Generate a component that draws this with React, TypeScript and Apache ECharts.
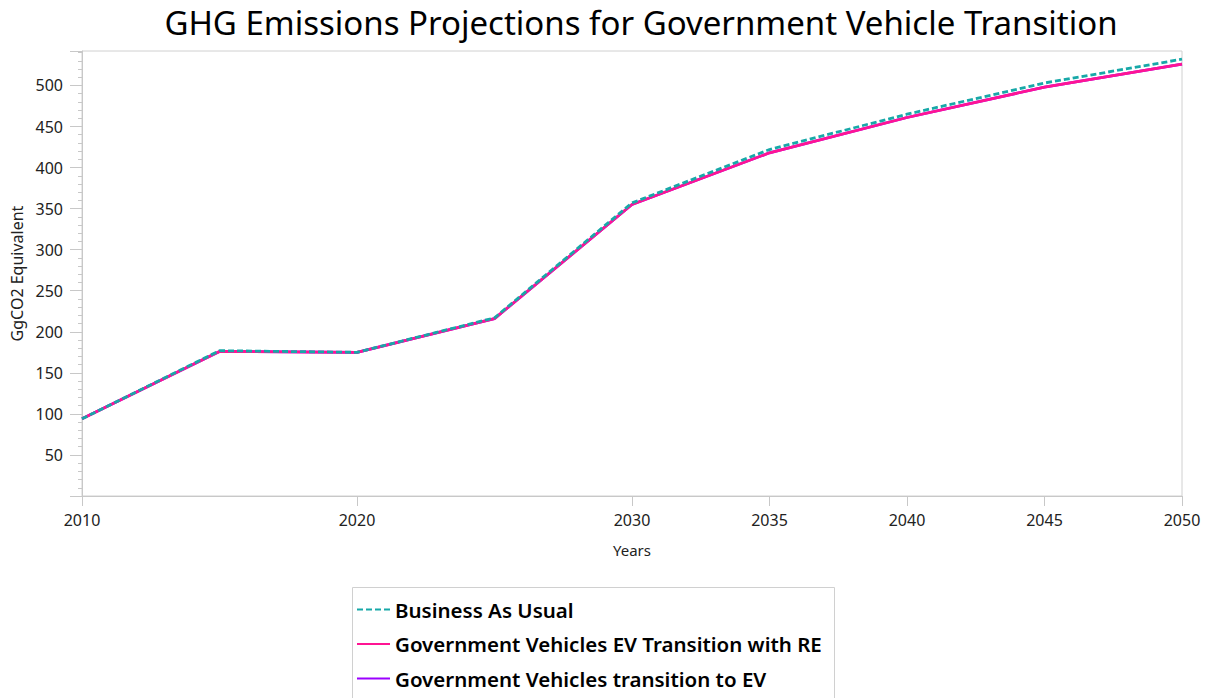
import React, { useEffect, useRef } from "react";
import * as echarts from "echarts";

const years = [2010, 2015, 2020, 2025, 2030, 2035, 2040, 2045, 2050];
const bau = [94, 177, 175, 217, 357, 422, 465, 503, 532];
const evRE = [94, 176, 175, 216, 355, 418, 461, 498, 526];
const evOnly = [94, 176, 175, 216, 355, 418, 461, 498, 526];
const xTicks = [2010, 2020, 2030, 2035, 2040, 2045, 2050];
const seriesNames = [
  "Business As Usual",
  "Government Vehicles EV Transition with RE",
  "Government Vehicles transition to EV",
];

const FONT = "'Noto Sans', 'Open Sans', sans-serif";

export default function App() {
  const ref = useRef<HTMLDivElement>(null);
  useEffect(() => {
    if (!ref.current) return;
    const chart = echarts.init(ref.current, undefined, { renderer: "svg" });
    const pair = (arr: number[]) => years.map((y, i) => [y, arr[i]]);
    chart.setOption({
      animation: false,
      textStyle: { fontFamily: FONT },
      grid: {
        left: 82,
        right: 28,
        top: 51,
        bottom: 202,
        outerBoundsMode: "none",
        containLabel: false,
        show: true,
        borderColor: "#d0d0d0",
        borderWidth: 1,
      },
      graphic: [
        {
          type: "text",
          x: 641,
          y: 22,
          style: {
            text: "GHG Emissions Projections for Government Vehicle Transition",
            fontFamily: FONT,
            fontSize: 33,
            fill: "#000",
            textAlign: "center",
            textVerticalAlign: "middle",
          },
        },
        {
          type: "rect",
          shape: { x: 352.5, y: 587.5, width: 482, height: 130 },
          style: { fill: "none", stroke: "#d0d0d0", lineWidth: 1 },
        },
      ],
      legend: {
        orient: "vertical",
        left: 356,
        top: 597,
        padding: 0,
        itemWidth: 33,
        itemHeight: 14,
        itemGap: 9.5,
        itemStyle: { opacity: 0 },
        textStyle: { fontSize: 20.5, fontWeight: 600, color: "#000", fontFamily: FONT, lineHeight: 25 },
        data: seriesNames,
      },
      xAxis: {
        type: "value",
        min: 2010,
        max: 2050,
        interval: 5,
        name: "Years",
        nameLocation: "middle",
        nameGap: 46,
        nameTextStyle: { fontSize: 15, color: "#222" },
        axisLine: { show: true, lineStyle: { color: "#c8c8c8" } },
        axisTick: { show: true, length: 10, lineStyle: { color: "#c8c8c8" }, customValues: xTicks },
        axisLabel: { fontSize: 16, color: "#222", margin: 16, customValues: xTicks, formatter: (v: number) => String(v) },
        splitLine: { show: false },
      },
      yAxis: {
        type: "value",
        min: 0,
        max: 542,
        interval: 50,
        name: "GgCO2 Equivalent",
        nameLocation: "middle",
        nameGap: 56,
        nameTextStyle: { fontSize: 16, color: "#222" },
        axisLine: { show: true, lineStyle: { color: "#c8c8c8" } },
        axisTick: { show: true, length: 12, lineStyle: { color: "#c8c8c8" } },
        minorTick: { show: true, splitNumber: 5, length: 4, lineStyle: { color: "#c8c8c8" } },
        axisLabel: {
          fontSize: 16,
          color: "#222",
          margin: 19,
          formatter: (v: number) => (v > 0 && v % 50 === 0 ? String(v) : ""),
        },
        splitLine: { show: false },
      },
      series: [
        {
          name: seriesNames[2],
          type: "line",
          data: pair(evOnly),
          symbol: "none",
          z: 1,
          lineStyle: { color: "#9b00ff", width: 2.8 },
          itemStyle: { color: "#9b00ff" },
        },
        {
          name: seriesNames[1],
          type: "line",
          data: pair(evRE),
          symbol: "none",
          z: 2,
          lineStyle: { color: "#ff1493", width: 2.8 },
          itemStyle: { color: "#ff1493" },
        },
        {
          name: seriesNames[0],
          type: "line",
          data: pair(bau),
          symbol: "none",
          z: 3,
          lineStyle: { color: "#17a8a8", width: 2.8, type: [6, 3] },
          itemStyle: { color: "#17a8a8" },
        },
      ],
    });
    return () => chart.dispose();
  }, []);
  return <div ref={ref} style={{ width: 1210, height: 698, position: "absolute", left: 0, top: 0 }} />;
}
